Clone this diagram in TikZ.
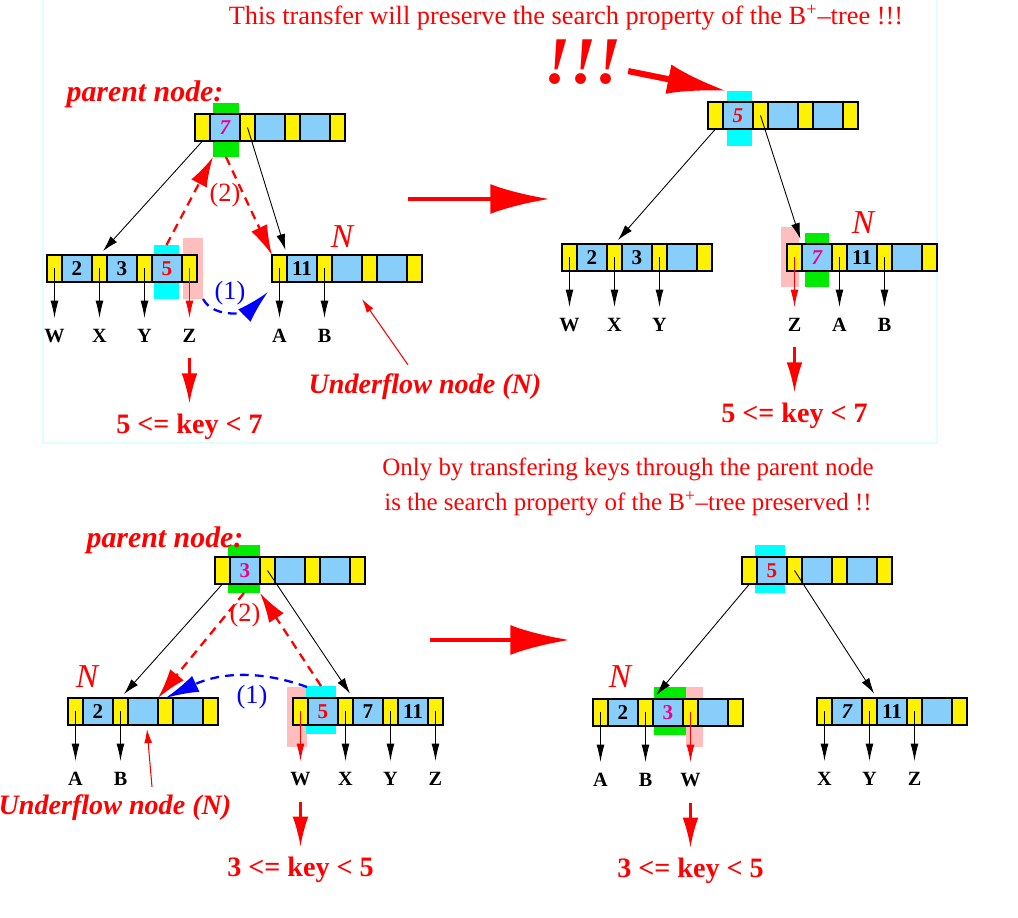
\documentclass[tikz,border=0pt]{standalone}
\usepackage{fontspec}
\setmainfont{Liberation Serif}
\usetikzlibrary{positioning,calc,arrows.meta}
\definecolor{cellblue}{RGB}{135,206,250}
\definecolor{hlgreen}{RGB}{0,235,0}
\definecolor{hlcyan}{RGB}{0,255,255}
\definecolor{hlpink}{RGB}{255,190,190}
\definecolor{panelcyan}{RGB}{222,255,255}

\tikzset{
  cellbox/.style={draw=black, line width=0.6pt, inner sep=0pt, outer sep=0pt,
    minimum height=0.54cm, font=\fontsize{12}{13}\selectfont\bfseries},
  ptr/.style={cellbox, fill=yellow, minimum width=0.3cm},
  keycell/.style={cellbox, fill=cellblue, minimum width=0.6cm},
  hl/.style={inner sep=0pt, outer sep=0pt},
  leaf/.style={inner sep=1pt, font=\fontsize{11.5}{13}\selectfont\bfseries},
  rangelbl/.style={inner sep=1pt, text=red, font=\fontsize{16}{18}\selectfont\bfseries},
  nlabel/.style={text=red, font=\fontsize{19}{22}\selectfont\itshape},
  parentlbl/.style={text=red, font=\fontsize{17}{20}\selectfont\bfseries\itshape},
  uflabel/.style={text=red, font=\fontsize{16}{19}\selectfont\bfseries\itshape},
  steplbl/.style={font=\fontsize{15}{17}\selectfont},
  treeedge/.style={line width=0.5pt, -{Latex[length=9pt,width=5pt]}, shorten >=3pt},
  ptrarrow/.style={line width=0.6pt, -{Latex[length=10pt,width=4.5pt]}, shorten >=5pt},
  rangearrow/.style={red, line width=1.2pt, -{Latex[length=17pt,width=9pt]},
    shorten <=8pt, shorten >=5pt},
  transfer/.style={red, line width=1.3pt, dash pattern=on 5pt off 3.5pt,
    -{Latex[length=17pt,width=10pt]}},
  movearrow/.style={blue, line width=1.3pt, dash pattern=on 5pt off 3.5pt,
    -{Latex[length=19pt,width=10pt]}},
  ufarrow/.style={red, line width=0.6pt, -{Latex[length=8pt,width=4.5pt]}},
  bigarrow/.style={red, line width=2.8pt, -{Latex[length=34pt,width=17pt]}},
}

% one B+-tree node: name, north west corner, three keys
\newcommand{\bpnode}[5]{%
  \node[ptr, anchor=north west] (#1p0) at (#2) {};
  \node[keycell, right=0pt of #1p0] (#1k1) {#3};
  \node[ptr, right=0pt of #1k1] (#1p1) {};
  \node[keycell, right=0pt of #1p1] (#1k2) {#4};
  \node[ptr, right=0pt of #1k2] (#1p2) {};
  \node[keycell, right=0pt of #1p2] (#1k3) {#5};
  \node[ptr, right=0pt of #1k3] (#1p3) {};
}

\begin{document}
\begin{tikzpicture}[x=0.02cm, y=-0.02cm]
  \useasboundingbox (0,0) rectangle (1018,918);
  \fill[white] (0,0) rectangle (1018,918);
  \draw[panelcyan, line width=1.2pt] (43,0) -- (43,443) -- (937,443) -- (937,0);

  % Texts
  \node[text=red, font=\fontsize{15}{18}\selectfont] (title) at (566,18)
    {This transfer will preserve the search property of the B\textsuperscript{+}--tree !!!};
  \node[text=red, align=center, font=\fontsize{14.2}{20}\selectfont] (note) at (628,487)
    {Only by transfering keys through the parent node\\
     is the search property of the B\textsuperscript{+}--tree preserved !!};

  % Highlights behind the cells
  \node[hl, fill=hlgreen, minimum width=0.52cm, minimum height=1.08cm] (P1hl) at (226,130) {};
  \node[hl, fill=hlcyan, minimum width=0.5cm, minimum height=1.08cm] (L1hl) at (166.5,272) {};
  \node[hl, fill=hlpink, minimum width=0.4cm, minimum height=1.22cm] (L1pk) at (193,268.5) {};
  \node[hl, fill=hlcyan, minimum width=0.5cm, minimum height=1.1cm] (P2hl) at (739.5,118.5) {};
  \node[hl, fill=hlpink, minimum width=0.36cm, minimum height=1.2cm] (R2pk) at (790,257) {};
  \node[hl, fill=hlgreen, minimum width=0.48cm, minimum height=1.08cm] (R2hl) at (817,260) {};
  \node[hl, fill=hlgreen, minimum width=0.64cm, minimum height=0.96cm] (P3hl) at (244,569) {};
  \node[hl, fill=hlpink, minimum width=0.4cm, minimum height=1.2cm] (R3pk) at (297,717) {};
  \node[hl, fill=hlcyan, minimum width=0.6cm, minimum height=0.96cm] (R3hl) at (321,710) {};
  \node[hl, fill=hlcyan, minimum width=0.6cm, minimum height=0.96cm] (P4hl) at (770,569) {};
  \node[hl, fill=hlgreen, minimum width=0.64cm, minimum height=0.96cm] (L4hl) at (670,711) {};
  \node[hl, fill=hlpink, minimum width=0.34cm, minimum height=1.2cm] (L4pk) at (694.5,717) {};

  % Tree nodes
  \bpnode{P1}{195,114}{\color{magenta}\itshape 7}{}{}
  \bpnode{L1}{47,255}{2}{3}{\color{red}5}
  \bpnode{R1}{272,255}{11}{}{}
  \bpnode{P2}{708,102}{\color{red}\itshape 5}{}{}
  \bpnode{L2}{562,244}{2}{3}{}
  \bpnode{R2}{787,244}{\color{magenta}\itshape 7}{11}{}
  \bpnode{P3}{215,557}{\color{magenta}3}{}{}
  \bpnode{L3}{68,698}{2}{}{}
  \bpnode{R3}{293,698}{\color{red}5}{7}{11}
  \bpnode{P4}{742,557}{\color{red}5}{}{}
  \bpnode{L4}{593,699}{2}{\color{magenta}3}{}
  \bpnode{R4}{817,698}{\itshape 7}{11}{}

  % Parent to child pointers
  \draw[treeedge] (P1p0.south) -- (L1p1.north);
  \draw[treeedge] (P1p1.center) -- (R1k1.north west);
  \draw[treeedge] (P2p0.south) -- (L2p1.north);
  \draw[treeedge] (P2p1.center) -- (R2k1.north west);
  \draw[treeedge] (P3p0.south) -- (L3p1.north);
  \draw[treeedge] (P3p1.center) -- (R3p1.north east);
  \draw[treeedge] (P4p0.south) -- (L4p1.north east);
  \draw[treeedge] (P4p1.center) -- (R4p1.north east);

  % Subtrees below the leaves
  \foreach \p/\lab in {0/W,1/X,2/Y} {
    \node[leaf, below=0.9cm of L1p\p] (L1c\p) {\lab};
    \draw[ptrarrow] (L1p\p.center) -- (L1c\p);
    \node[leaf, below=0.9cm of L2p\p] (L2c\p) {\lab};
    \draw[ptrarrow] (L2p\p.center) -- (L2c\p);
  }
  \foreach \p/\lab in {0/A,1/B} {
    \node[leaf, below=0.9cm of R1p\p] (R1c\p) {\lab};
    \draw[ptrarrow] (R1p\p.center) -- (R1c\p);
    \node[leaf, below=0.9cm of L3p\p] (L3c\p) {\lab};
    \draw[ptrarrow] (L3p\p.center) -- (L3c\p);
    \node[leaf, below=0.9cm of L4p\p] (L4c\p) {\lab};
    \draw[ptrarrow] (L4p\p.center) -- (L4c\p);
  }
  \foreach \p/\lab in {1/A,2/B} {
    \node[leaf, below=0.9cm of R2p\p] (R2c\p) {\lab};
    \draw[ptrarrow] (R2p\p.center) -- (R2c\p);
  }
  \foreach \p/\lab in {1/X,2/Y,3/Z} {
    \node[leaf, below=0.9cm of R3p\p] (R3c\p) {\lab};
    \draw[ptrarrow] (R3p\p.center) -- (R3c\p);
  }
  \foreach \p/\lab in {0/X,1/Y,2/Z} {
    \node[leaf, below=0.9cm of R4p\p] (R4c\p) {\lab};
    \draw[ptrarrow] (R4p\p.center) -- (R4c\p);
  }

  % The moved subtree and its key range
  \node[leaf, below=0.9cm of L1p3] (L1c3) {Z};
  \draw[ptrarrow, red] (L1p3.center) -- (L1c3);
  \node[rangelbl, below=1.35cm of L1c3] (L1rng) {5 <= key < 7};
  \draw[rangearrow] (L1c3) -- (L1rng);
  \node[leaf, below=0.9cm of R2p0] (R2c0) {Z};
  \draw[ptrarrow, red] (R2p0.center) -- (R2c0);
  \node[rangelbl, below=1.35cm of R2c0] (R2rng) {5 <= key < 7};
  \draw[rangearrow] (R2c0) -- (R2rng);
  \node[leaf, below=0.9cm of R3p0] (R3c0) {W};
  \draw[ptrarrow, red] (R3p0.center) -- (R3c0);
  \node[rangelbl, below=1.35cm of R3c0] (R3rng) {3 <= key < 5};
  \draw[rangearrow] (R3c0) -- (R3rng);
  \node[leaf, below=0.9cm of L4p2] (L4c2) {W};
  \draw[ptrarrow, red] (L4p2.center) -- (L4c2);
  \node[rangelbl, below=1.35cm of L4c2] (L4rng) {3 <= key < 5};
  \draw[rangearrow] (L4c2) -- (L4rng);

  % Labels
  \node[parentlbl] (par1) at (145,94) {parent node:};
  \node[parentlbl] (par2) at (165,540) {parent node:};
  \node[nlabel] (N1) at (342,237) {N};
  \node[nlabel] (N2) at (863,223) {N};
  \node[nlabel] (N3) at (87,677) {N};
  \node[nlabel] (N4) at (620,677) {N};
  \node[uflabel] (uf1) at (425,387) {Underflow node (N)};
  \node[uflabel] (uf2) at (115,808) {Underflow node (N)};
  \draw[ufarrow] ($(uf1.north)+(-17,-3)$) -- ($(R1k2.south east)+(0,17)$);
  \draw[ufarrow] ($(uf2.north)+(37,-2)$) -- ($(L3k2.south)+(4,4)$);

  % Transfer steps (1) and (2)
  \draw[transfer] (L1hl.north) -- (P1hl.south west);
  \draw[transfer] (P1hl.south) -- (R1p0.north west);
  \node[steplbl, text=red] (s2a) at (225,195) {(2)};
  \draw[movearrow] (L1pk.south east) to[out=-60, in=225] ($(R1p0.south west)+(-4,10)$);
  \node[steplbl, text=blue] (s1a) at (230,293) {(1)};
  \draw[transfer] (P3hl.south) -- (L3k2.north east);
  \draw[transfer] (R3hl.north) -- (P3hl.south east);
  \node[steplbl, text=red] (s2b) at (245,615) {(2)};
  \draw[movearrow] (R3pk.north east) to[out=160, in=25] (L3p2.north);
  \node[steplbl, text=blue] (s1b) at (252,697) {(1)};

  % Big arrows
  \node[text=red, font=\fontsize{38}{40}\selectfont\bfseries\itshape] (bang) at (583,62) {!!!};
  \draw[bigarrow, line width=3.5pt] (bang) -- (P2hl.north west);
  \coordinate (go1) at (408,199);
  \coordinate (to1) at (550,199);
  \draw[bigarrow] (go1) -- (to1);
  \coordinate (go2) at (430,640);
  \coordinate (to2) at (570,640);
  \draw[bigarrow] (go2) -- (to2);
\end{tikzpicture}
\end{document}
